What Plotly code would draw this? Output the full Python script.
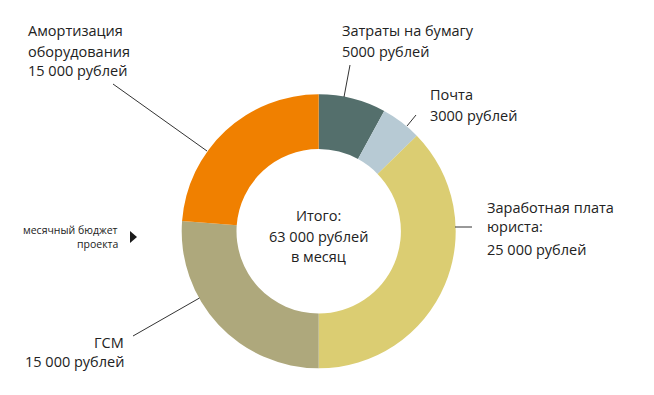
import plotly.graph_objects as go

W, H = 654, 395

# ---- data ----
categories = ["Затраты на бумагу", "Почта", "Заработная плата юриста", "ГСМ", "Амортизация оборудования"]
values = [5000, 3000, 23500, 16500, 15000]   # proportions as drawn
colors = ["#546f6c", "#b7cad4", "#dbcd72", "#aea87c", "#f08000"]

label_lines = [
    ["Затраты на бумагу", "5000 рублей"],
    ["Почта", "3000 рублей"],
    ["Заработная плата", "юриста:", "25 000 рублей"],
    ["ГСМ", "15 000 рублей"],
    ["Амортизация", "оборудования", "15 000 рублей"],
]
center_lines = ["Итого:", "63 000 рублей", "в месяц"]
side_lines = ["месячный бюджет", "проекта"]

# ---- layout helpers (pixel -> paper) ----
def px(x):
    return x / W

def py(y):
    return 1 - y / H

cx, cy, R = 318.7, 231.3, 137.0

fig = go.Figure(go.Pie(
    labels=categories,
    values=values,
    marker=dict(colors=colors, line=dict(width=0)),
    hole=0.6,
    sort=False,
    direction="clockwise",
    rotation=0,
    textinfo="none",
    hoverinfo="label+value",
    showlegend=False,
    domain=dict(x=[px(cx - R), px(cx + R)], y=[py(cy + R), py(cy - R)]),
))

FONT = "Open Sans"
TXT = "#222222"
FS = 14.5

label_pos = [
    (339.5, [31, 51], "left"),
    (427.5, [95, 115], "left"),
    (485.0, [207, 227, 249], "left"),
    (126.0, [342, 361], "right"),
    (26.0, [31, 51, 71], "left"),
]

ann = []
for lines, (x, ys, anchor) in zip(label_lines, label_pos):
    for t, y in zip(lines, ys):
        ann.append(dict(x=px(x), y=py(y), xref="paper", yref="paper", text=t,
                        showarrow=False, xanchor=anchor, yanchor="middle",
                        font=dict(family=FONT, size=FS, color=TXT)))

for t, y in zip(center_lines, [215.5, 236, 256]):
    ann.append(dict(x=px(cx), y=py(y), xref="paper", yref="paper", text=t,
                    showarrow=False, xanchor="center", yanchor="middle",
                    font=dict(family=FONT, size=FS, color=TXT)))

for t, y in zip(side_lines, [229.5, 244]):
    ann.append(dict(x=px(120.5), y=py(y), xref="paper", yref="paper", text=t,
                    showarrow=False, xanchor="right", yanchor="middle",
                    font=dict(family=FONT, size=10.5, color=TXT)))

leaders = [
    ((350, 65), (344, 97)),
    ((416, 115), (407, 126)),
    ((455, 227), (472, 227)),
    ((133, 336), (199.5, 298)),
    ((113, 84), (207, 151)),
]
shapes = []
for (x0, y0), (x1, y1) in leaders:
    shapes.append(dict(type="line", xref="paper", yref="paper",
                       x0=px(x0), y0=py(y0), x1=px(x1), y1=py(y1),
                       line=dict(color="#333333", width=1)))

tri = [(130, 231), (137, 237), (130, 243)]
path = "M " + " L ".join(f"{px(a):.5f},{py(b):.5f}" for a, b in tri) + " Z"
shapes.append(dict(type="path", xref="paper", yref="paper", path=path,
                   fillcolor="#1a1a1a", line=dict(width=0)))

fig.update_layout(
    width=W, height=H,
    margin=dict(l=0, r=0, t=0, b=0),
    paper_bgcolor="white",
    plot_bgcolor="white",
    annotations=ann,
    shapes=shapes,
)

fig.write_html("out.html",
               config={"displayModeBar": False},
               post_script="document.body.style.margin='0';document.body.style.overflow='hidden';")
